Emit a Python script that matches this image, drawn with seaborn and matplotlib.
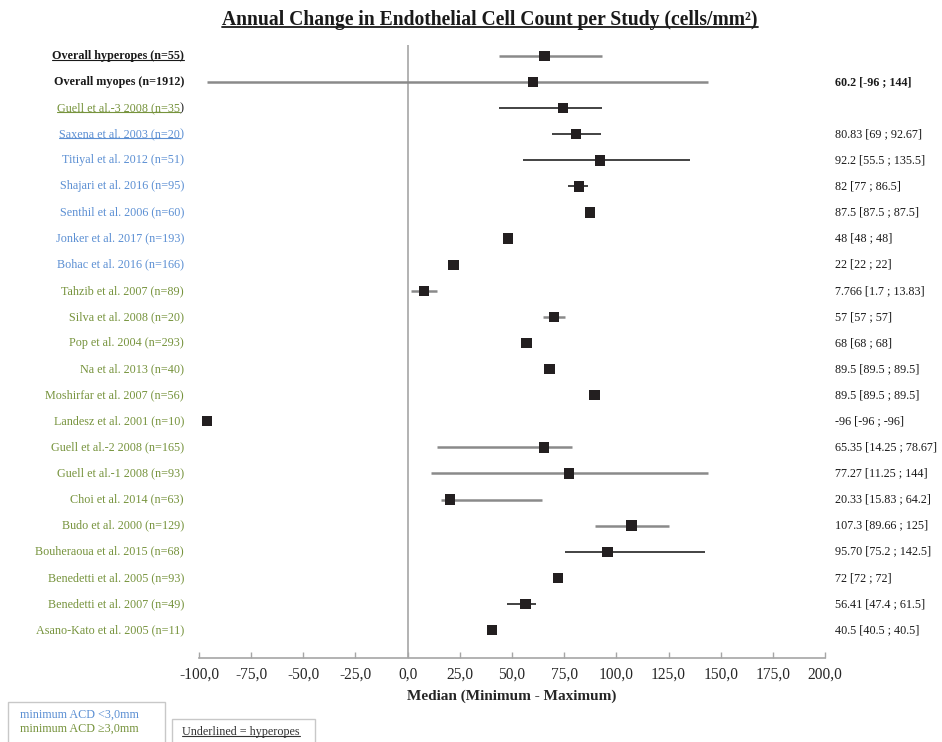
import matplotlib
matplotlib.use("Agg")
import matplotlib.pyplot as plt
from matplotlib.lines import Line2D
from matplotlib.patches import Rectangle
import matplotlib.transforms as mtransforms
import seaborn as sns
import pandas as pd
import numpy as np

# ---------------- data ----------------
studies = [
    "Overall hyperopes (n=55)", "Overall myopes (n=1912)",
    "Guell et al.-3 2008 (n=35)", "Saxena et al. 2003 (n=20)",
    "Titiyal et al. 2012 (n=51)", "Shajari et al. 2016 (n=95)",
    "Senthil et al. 2006 (n=60)", "Jonker et al. 2017 (n=193)",
    "Bohac et al. 2016 (n=166)", "Tahzib et al. 2007 (n=89)",
    "Silva et al. 2008 (n=20)", "Pop et al. 2004 (n=293)",
    "Na et al. 2013 (n=40)", "Moshirfar et al. 2007 (n=56)",
    "Landesz et al. 2001 (n=10)", "Guell et al.-2 2008 (n=165)",
    "Guell et al.-1 2008 (n=93)", "Choi et al. 2014 (n=63)",
    "Budo et al. 2000 (n=129)", "Bouheraoua et al. 2015 (n=68)",
    "Benedetti et al. 2005 (n=93)", "Benedetti et al. 2007 (n=49)",
    "Asano-Kato et al. 2005 (n=11)",
]
groups = [
    "overall", "overall",
    "acd_ge3", "acd_lt3", "acd_lt3", "acd_lt3", "acd_lt3", "acd_lt3", "acd_lt3",
    "acd_ge3", "acd_ge3", "acd_ge3", "acd_ge3", "acd_ge3", "acd_ge3", "acd_ge3",
    "acd_ge3", "acd_ge3", "acd_ge3", "acd_ge3", "acd_ge3", "acd_ge3", "acd_ge3",
]
hyperopes = [True, False, True, True] + [False] * 19

medians = [65.6, 60.2, 74.3, 80.83, 92.2, 82.0, 87.5, 48.0, 22.0, 7.766,
           70.0, 57.0, 68.0, 89.5, -96.0, 65.35, 77.27, 20.33, 107.3, 95.7,
           72.0, 56.41, 40.5]
minimums = [44.0, -96.0, 44.0, 69.0, 55.5, 77.0, 87.5, 48.0, 22.0, 1.7,
            65.0, 57.0, 68.0, 89.5, -96.0, 14.25, 11.25, 15.83, 89.66, 75.2,
            72.0, 47.4, 40.5]
maximums = [93.0, 144.0, 93.0, 92.67, 135.5, 86.5, 87.5, 48.0, 22.0, 13.83,
            75.5, 57.0, 68.0, 89.5, -96.0, 78.67, 144.0, 64.2, 125.0, 142.5,
            72.0, 61.5, 40.5]
right_labels = [
    "", "60.2 [-96 ; 144]", "", "80.83 [69 ; 92.67]", "92.2 [55.5 ; 135.5]",
    "82 [77 ; 86.5]", "87.5 [87.5 ; 87.5]", "48 [48 ; 48]", "22 [22 ; 22]",
    "7.766 [1.7 ; 13.83]", "57 [57 ; 57]", "68 [68 ; 68]", "89.5 [89.5 ; 89.5]",
    "89.5 [89.5 ; 89.5]", "-96 [-96 ; -96]", "65.35 [14.25 ; 78.67]",
    "77.27 [11.25 ; 144]", "20.33 [15.83 ; 64.2]", "107.3 [89.66 ; 125]",
    "95.70 [75.2 ; 142.5]", "72 [72 ; 72]", "56.41 [47.4 ; 61.5]",
    "40.5 [40.5 ; 40.5]",
]
xtick_values = [-100, -75, -50, -25, 0, 25, 50, 75, 100, 125, 150, 175, 200]

title = "Annual Change in Endothelial Cell Count per Study (cells/mm\u00b2)"
xlabel = "Median (Minimum - Maximum)"
legend_lines = ["minimum ACD <3,0mm", "minimum ACD \u22653,0mm"]
legend_note = "Underlined = hyperopes"

# ---------------- style ----------------
sns.set_theme(style="white")
plt.rcParams["font.family"] = ["Liberation Serif", "DejaVu Serif"]

BLUE = "#5b8fd3"
GREEN = "#76933c"
BLACK = "#1a1a1a"
GREY_LINE = "#8a8a8a"
DARK_LINE = "#222222"
group_color = {"overall": BLACK, "acd_lt3": BLUE, "acd_ge3": GREEN}
dark_rows = {2, 3, 4, 5, 19, 21}

W, H = 942, 742
fig = plt.figure(figsize=(W / 100, H / 100), dpi=100)
ax_left, ax_right, ax_top, ax_bottom = 199, 825, 45, 658
ax = fig.add_axes([ax_left / W, 1 - ax_bottom / H,
                   (ax_right - ax_left) / W, (ax_bottom - ax_top) / H])

df = pd.DataFrame({"study": studies, "median": medians, "lo": minimums,
                   "hi": maximums, "pos": np.arange(len(studies))})

# range lines
for i, r in df.iterrows():
    if r["hi"] > r["lo"]:
        dark = i in dark_rows
        ax.hlines(r["pos"], r["lo"], r["hi"],
                  color=DARK_LINE if dark else GREY_LINE,
                  lw=1.2 if dark else 1.8, zorder=2)

sns.scatterplot(data=df, x="median", y="pos", marker="s", s=55,
                color="#231f20", edgecolor="none", linewidth=0, ax=ax,
                zorder=3, legend=False)

ax.axvline(0, color="#a6a6a6", lw=1.2, zorder=1)

row_h = 26.09
first_row = 56
ax.set_ylim((ax_bottom - first_row) / row_h, (ax_top - first_row) / row_h)
ax.set_xlim(-100, 200)
ax.set_xticks(xtick_values)
ax.set_xticklabels([f"{v:.1f}".replace(".", ",") for v in xtick_values],
                   fontsize=11.2)
ax.tick_params(axis="x", direction="in", length=4, color="#a6a6a6",
               width=1, pad=6, bottom=True)
ax.set_yticks([])
ax.set_ylabel("")
for s in ["top", "right", "left"]:
    ax.spines[s].set_visible(False)
ax.spines["bottom"].set_color("#a6a6a6")
ax.spines["bottom"].set_linewidth(1.2)
ax.set_xlabel(xlabel, fontsize=11, fontweight="bold", labelpad=5)
ax.grid(False)

# left labels
blend = mtransforms.blended_transform_factory(fig.transFigure, ax.transData)
label_x = 184 / W
underline_targets = []
for i, (name, g) in enumerate(zip(studies, groups)):
    col = group_color[g]
    weight = "bold" if g == "overall" else "normal"
    if i in (2, 3):
        paren_col = BLACK if i == 2 else col
        p = ax.text(label_x, i, ")", transform=blend, ha="right", va="center",
                    fontsize=8.7, color=paren_col)
        t = ax.annotate(name[:-1], xy=(0, 0), xycoords=p, ha="right",
                        va="bottom", fontsize=8.7, color=col)
    else:
        t = ax.text(label_x, i, name, transform=blend, ha="right",
                    va="center", fontsize=8.7, color=col, fontweight=weight)
    if hyperopes[i]:
        underline_targets.append((t, col))

# right labels
right_x = 835 / W
for i, lab in enumerate(right_labels):
    if lab:
        ax.text(right_x, i, lab, transform=blend, ha="left", va="center",
                fontsize=8.7, color=BLACK,
                fontweight="bold" if groups[i] == "overall" else "normal")

# title
ttl = fig.text(490 / W, 1 - 20 / H, title, ha="center", va="center",
               fontsize=14.1, fontweight="bold", color=BLACK)
underline_targets.append((ttl, BLACK))

# legend boxes
fig.patches.append(Rectangle((8 / W, -0.02), 157 / W, 0.02 + (H - 702) / H,
                             transform=fig.transFigure, fill=False,
                             edgecolor="#c8c8c8", lw=1))
fig.patches.append(Rectangle((172 / W, -0.02), 143 / W, 0.02 + (H - 719) / H,
                             transform=fig.transFigure, fill=False,
                             edgecolor="#c8c8c8", lw=1))
fig.text(20 / W, 1 - 715 / H, legend_lines[0], ha="left", va="center",
         fontsize=8.7, color=BLUE)
fig.text(20 / W, 1 - 729 / H, legend_lines[1], ha="left", va="center",
         fontsize=8.7, color=GREEN)
note = fig.text(182 / W, 1 - 732 / H, legend_note, ha="left", va="center",
                fontsize=8.7, color="#333333")
underline_targets.append((note, "#333333"))

# underlines
fig.canvas.draw()
renderer = fig.canvas.get_renderer()
inv = fig.transFigure.inverted()
for t, col in underline_targets:
    bb = t.get_window_extent(renderer)
    y = bb.y0 + 0.17 * bb.height
    (x0, yy), (x1, _) = inv.transform([(bb.x0, y), (bb.x1, y)])
    lw = 1.3 if t is ttl else 0.8
    fig.lines.append(Line2D([x0, x1], [yy, yy], transform=fig.transFigure,
                            color=col, lw=lw))

fig.savefig("out.png", dpi=100, facecolor="white")
